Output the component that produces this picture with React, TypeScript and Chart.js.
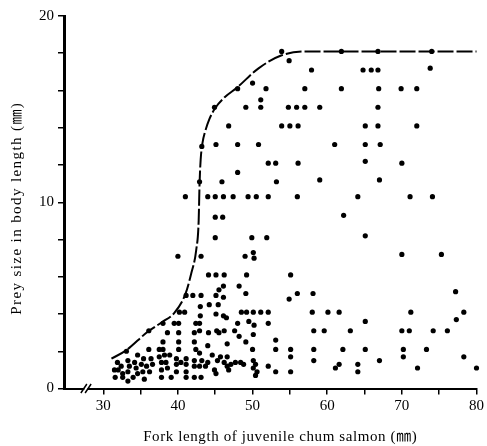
import React, { useEffect, useRef } from 'react';
import { Chart, registerables } from 'chart.js';

Chart.register(...registerables);

// Prey size >= 10 mm
const highFork = [
  53.9, 61.9, 66.8, 74.0, 54.9,
  57.9, 64.8, 65.9, 66.8, 73.8,
  48.0, 51.8, 57.0, 61.9, 66.9, 69.9, 72.0, 50.0, 51.1,
  44.9, 49.1, 51.1, 54.8, 55.9, 57.0, 59.0, 66.8,
  46.8, 53.9, 55.0, 56.1, 65.1, 66.8, 72.0,
  43.2, 45.1, 48.0, 50.8, 61.0, 65.1, 67.1,
  52.1, 53.1, 56.1, 65.1, 70.0, 48.0, 53.2, 59.0, 67.0, 42.9, 45.9,
  47.4, 49.4, 50.5, 52.1, 56.0, 64.1, 71.1, 74.1, 41.0, 44.0, 45.0, 46.1,
];
const highPrey = [
  18.1, 18.1, 18.1, 18.1, 17.6,
  17.1, 17.1, 17.1, 17.1, 17.2,
  16.1, 16.1, 16.1, 16.1, 16.1, 16.1, 16.1, 16.4, 15.5,
  15.1, 15.1, 15.1, 15.1, 15.1, 15.1, 15.1, 15.1,
  14.1, 14.1, 14.1, 14.1, 14.1, 14.1, 14.1,
  13.0, 13.1, 13.1, 13.1, 13.1, 13.1, 13.1,
  12.1, 12.1, 12.1, 12.2, 12.1, 11.6, 11.1, 11.2, 11.2, 11.1, 11.1,
  10.3, 10.3, 10.3, 10.3, 10.3, 10.3, 10.3, 10.3, 10.3, 10.3, 10.3, 10.3,
];

// Prey size 3 - 10 mm
const midFork = [
  62.2, 45.0, 46.0, 49.9, 51.9, 65.1, 45.0,
  49.0, 50.1, 50.2, 70.0, 75.3, 40.0, 43.1,
  49.2, 55.1, 44.1, 45.1, 46.2, 48.2, 45.5, 46.1,
  49.1, 54.9, 56.0, 58.1, 77.2, 41.1, 42.0, 43.1, 45.1, 46.1,
  44.2, 45.4, 43.0,
  48.5, 49.2, 50.1, 51.1, 52.1, 58.0, 60.1, 61.6, 71.2, 78.3,
  40.2, 40.9, 45.1, 43.0, 46.1, 46.5,
  48.0, 49.5, 50.2, 52.1, 65.1, 77.3, 39.5, 40.1, 42.4, 42.9, 38.0,
  47.6, 58.2, 59.6, 63.1, 70.0, 71.0, 74.2, 76.1,
  36.1, 38.6, 40.1, 42.2, 42.9, 44.1, 45.2, 45.5, 46.2,
];
const midPrey = [
  9.3, 9.2, 9.2, 8.1, 8.1, 8.2, 8.1,
  7.1, 7.3, 7.0, 7.2, 7.2, 7.1, 7.1,
  6.1, 6.1, 6.1, 6.1, 6.1, 5.5, 5.3, 5.5,
  5.1, 4.8, 5.1, 5.1, 5.2, 5.0, 5.0, 5.0, 5.0, 4.9,
  4.5, 4.5, 4.4,
  4.1, 4.1, 4.1, 4.1, 4.1, 4.1, 4.1, 4.1, 4.1, 4.1,
  4.1, 4.1, 4.0, 3.9, 3.9, 3.8,
  3.5, 3.6, 3.4, 3.5, 3.6, 3.7, 3.5, 3.5, 3.5, 3.5, 3.5,
  3.1, 3.1, 3.1, 3.1, 3.1, 3.1, 3.1, 3.1,
  3.1, 3.0, 3.0, 3.0, 3.1, 3.0, 3.1, 3.0, 3.1,
];

// Prey size < 3 mm
const lowFork = [
  48.2, 50.1, 49.1, 53.1, 38.0, 40.1, 42.2, 44.0, 46.6,
  50.0, 53.1, 55.1, 58.2, 62.1, 65.1, 70.2, 73.3,
  33.1, 36.1, 37.5, 38.0, 40.1, 42.4,
  55.1, 58.2, 67.0, 70.2, 78.3,
  52.1, 53.1, 55.1, 61.1, 61.6, 64.1, 64.1, 72.1, 80.0,
  42.9, 43.2, 44.0, 44.6, 43.7, 45.3, 45.7, 46.2, 46.6, 46.6, 47.1, 47.7,
  48.4, 48.8, 44.9, 45.1, 42.9, 43.1, 46.8, 50.1, 50.4, 50.1, 50.6, 50.4,
  34.6, 31.9, 32.4, 32.0, 32.6, 33.3, 33.5, 34.2, 33.3, 32.6, 34.0, 34.6, 34.4,
  35.4, 36.4, 35.1, 36.6, 35.8, 35.3, 36.2,
  37.5, 38.2, 38.9, 37.8, 38.4, 37.8, 37.8, 38.6,
  39.8, 39.8, 39.8, 40.4, 41.1, 41.1, 41.1, 41.1,
  42.2, 42.2, 42.2, 39.1, 31.5, 31.6, 33.3, 35.5,
];
const lowPrey = [
  2.8, 2.9, 2.5, 2.6, 2.5, 2.5, 2.5, 2.3, 2.4,
  2.1, 2.1, 2.1, 2.1, 2.1, 2.1, 2.1, 2.1,
  2.0, 2.1, 2.1, 2.1, 2.1, 2.1,
  1.7, 1.5, 1.5, 1.7, 1.7,
  1.2, 0.9, 0.9, 1.1, 1.3, 1.3, 0.9, 1.1, 1.1,
  1.9, 1.5, 1.4, 1.8, 1.2, 1.5, 1.7, 1.4, 1.7, 1.2, 1.3, 1.4,
  1.4, 1.3, 1.0, 0.8, 1.2, 0.6, 1.0, 1.5, 1.3, 1.1, 0.9, 0.7,
  1.8, 1.4, 1.2, 1.0, 0.8, 0.9, 1.2, 1.4, 1.5, 0.6, 0.6, 0.8, 1.1,
  1.6, 1.6, 1.3, 1.3, 1.2, 0.9, 0.9,
  1.7, 1.8, 1.8, 1.4, 1.4, 1.0, 0.6, 1.1,
  1.6, 1.3, 0.9, 1.4, 1.6, 1.3, 0.9, 0.6,
  1.5, 1.2, 0.6, 0.6, 1.0, 0.6, 0.4, 0.5,
];

// Upper-limit curve of prey size
const curveFork = [31.1, 33.1, 35.9, 37.9, 39.5, 41.0, 41.8, 42.45, 42.78, 42.9, 43.05, 43.3, 43.65, 44.2, 44.98, 46.3, 47.9, 50.8, 53.9, 57.1, 80.0];
const curvePrey = [1.6, 2.06, 3.03, 3.57, 4.05, 5.07, 6.2, 7.43, 9.0, 11.0, 12.3, 13.2, 13.8, 14.45, 15.05, 15.65, 16.15, 17.19, 17.89, 18.1, 18.1];

const xTickValues = [30, 35, 40, 45, 50, 55, 60, 65, 70, 75, 80];
const xTickLabels = [30, 40, 50, 60, 70, 80];
const yTickValues = [0, 2, 4, 6, 8, 10, 12, 14, 16, 18, 20];
const yTickLabels = [0, 10, 20];

const xTitle = 'Fork length of juvenile chum salmon (㎜)';
const yTitle = 'Prey size in body length (㎜)';

const xAxisMin = 24.74;
const breakAt = [27.4, 27.97];

const FONT = "'Liberation Serif', 'Times New Roman', 'Noto Sans CJK JP', serif";

const toPoints = (xs: number[], ys: number[]) => xs.map((x, i) => ({ x, y: ys[i] }));

const axisBreak = {
  id: 'axisBreak',
  afterDraw(chart: any) {
    const { ctx, scales } = chart;
    const xs = scales.x;
    const yb = scales.y.getPixelForValue(0);
    const p1 = xs.getPixelForValue(breakAt[0]);
    const p2 = xs.getPixelForValue(breakAt[1]);
    ctx.save();
    ctx.fillStyle = '#fff';
    ctx.fillRect(p1 + 0.5, yb - 3, p2 - p1 - 1, 6);
    ctx.strokeStyle = '#000';
    ctx.lineWidth = 1.5;
    ctx.beginPath();
    ctx.moveTo(p1 - 3, yb + 4.5);
    ctx.lineTo(p1 + 3, yb - 4.5);
    ctx.moveTo(p2 - 3, yb + 4.5);
    ctx.lineTo(p2 + 3, yb - 4.5);
    ctx.stroke();
    ctx.restore();
  },
};

const axisTitles = {
  id: 'axisTitles',
  afterDraw(chart: any) {
    const { ctx, chartArea } = chart;
    ctx.save();
    ctx.fillStyle = '#000';
    ctx.font = `15px ${FONT}`;
    ctx.textAlign = 'center';
    ctx.textBaseline = 'middle';
    (ctx as any).letterSpacing = '0.6px';
    ctx.fillText(xTitle, (chartArea.left + chartArea.right) / 2 + 10, chart.height - 9);
    (ctx as any).letterSpacing = '1.4px';
    ctx.translate(17, (chartArea.top + chartArea.bottom) / 2 + 6);
    ctx.rotate(-Math.PI / 2);
    ctx.fillText(yTitle, 0, 0);
    ctx.restore();
  },
};

export default function App() {
  const ref = useRef<HTMLCanvasElement | null>(null);

  useEffect(() => {
    if (!ref.current) return;
    const points = [
      ...toPoints(highFork, highPrey),
      ...toPoints(midFork, midPrey),
      ...toPoints(lowFork, lowPrey),
    ];
    const chart = new Chart(ref.current, {
      type: 'scatter',
      data: {
        datasets: [
          {
            label: 'Prey',
            data: points,
            backgroundColor: '#000',
            borderColor: '#000',
            borderWidth: 0,
            pointRadius: 2.6,
            pointHoverRadius: 2.6,
            clip: false,
          },
          {
            label: 'Upper limit',
            type: 'line',
            data: toPoints(curveFork, curvePrey),
            borderColor: '#000',
            borderWidth: 2,
            borderDash: [16, 3],
            pointRadius: 0,
            fill: false,
            cubicInterpolationMode: 'monotone',
            clip: false,
          } as any,
        ],
      },
      options: {
        responsive: false,
        animation: false,
        events: [],
        layout: { padding: { top: 16, right: 8, left: 0, bottom: 0 } },
        plugins: {
          legend: { display: false },
          tooltip: { enabled: false },
        },
        scales: {
          x: {
            type: 'linear',
            min: xAxisMin,
            max: 80,
            afterBuildTicks: (s: any) => {
              s.ticks = xTickValues.map((v) => ({ value: v }));
            },
            afterFit: (s: any) => {
              s.height = 57.5;
            },
            ticks: {
              autoSkip: false,
              maxRotation: 0,
              padding: 3,
              color: '#000',
              font: { family: FONT, size: 15 },
              callback: (v: any) => (xTickLabels.includes(Number(v)) ? String(v) : ''),
            },
            grid: {
              drawOnChartArea: false,
              drawTicks: true,
              tickLength: 6,
              color: '#000',
              lineWidth: 1.5,
            },
            border: { display: true, color: '#000', width: 2 },
            title: { display: false, text: xTitle },
          },
          y: {
            type: 'linear',
            min: 0,
            max: 20,
            afterBuildTicks: (s: any) => {
              s.ticks = yTickValues.map((v) => ({ value: v }));
            },
            afterFit: (s: any) => {
              s.width = 64;
            },
            ticks: {
              autoSkip: false,
              padding: 4,
              color: '#000',
              font: { family: FONT, size: 15 },
              callback: (v: any) => (yTickLabels.includes(Number(v)) ? String(v) : ''),
            },
            grid: {
              drawOnChartArea: false,
              drawTicks: true,
              tickLength: 6,
              color: '#000',
              lineWidth: 1.5,
            },
            border: { display: true, color: '#000', width: 3 },
            title: { display: false, text: yTitle },
          },
        },
      },
      plugins: [axisBreak, axisTitles],
    });
    return () => chart.destroy();
  }, []);

  return (
    <div style={{ position: 'absolute', left: 0, top: 0, width: 487, height: 446, background: '#fff' }}>
      <canvas ref={ref} width={487} height={446} />
    </div>
  );
}
